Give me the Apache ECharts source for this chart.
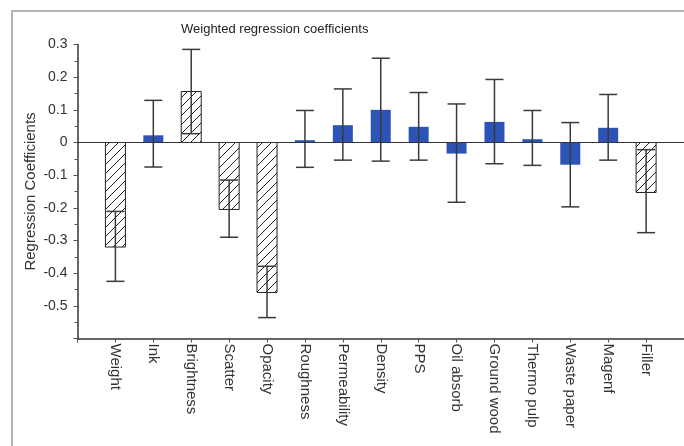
<!DOCTYPE html>
<html>
<head>
<meta charset="utf-8">
<script src="https://cdn.jsdelivr.net/npm/echarts@6/dist/echarts.min.js"></script>
<style>
html,body{margin:0;padding:0;background:#fff;}
#chart{width:684px;height:446px;}
</style>
</head>
<body>
<div id="chart"></div>
<script>
const titleText = 'Weighted regression coefficients';
const yAxisName = 'Regression Coefficients';
const categories = ['Weight','Ink','Brightness','Scatter','Opacity','Roughness','Permeability','Density','PPS','Oil absorb','Ground wood','Thermo pulp','Waste paper','Magenf','Filler'];
const coefficients = [-0.32, 0.022, 0.156, -0.205, -0.459, 0.007, 0.053, 0.100, 0.048, -0.034, 0.063, 0.010, -0.068, 0.045, -0.153];
const errorLow  = [-0.425, -0.075, 0.027, -0.290, -0.536, -0.076, -0.054, -0.057, -0.054, -0.183, -0.065, -0.070, -0.197, -0.054, -0.276];
const errorHigh = [-0.211, 0.129, 0.285, -0.115, -0.379, 0.098, 0.164, 0.258, 0.153, 0.118, 0.193, 0.098, 0.061, 0.147, -0.022];
const hatched = [true, false, true, true, true, false, false, false, false, false, false, false, false, false, true];
const yMin = -0.6, yMax = 0.3, yStep = 0.1;

// hatch pattern
const pc = document.createElement('canvas');
pc.width = 9; pc.height = 9;
const g = pc.getContext('2d');
g.fillStyle = '#fff'; g.fillRect(0,0,9,9);
g.strokeStyle = '#222'; g.lineWidth = 1;
g.beginPath();
g.moveTo(-1,10); g.lineTo(10,-1);
g.moveTo(-1,1); g.lineTo(1,-1);
g.moveTo(8,10); g.lineTo(10,8);
g.stroke();
const hatchFill = {image: pc, repeat: 'repeat'};

const axisCats = [''].concat(categories, ['']);
const seriesData = categories.map((c, i) => [i + 1, coefficients[i], errorLow[i], errorHigh[i], hatched[i] ? 1 : 0]);

const chart = echarts.init(document.getElementById('chart'), null, {renderer: 'canvas'});
const font = 'Liberation Sans, Arial, Helvetica, sans-serif';

chart.setOption({
  animation: false,
  backgroundColor: '#fff',
  title: {
    text: titleText,
    left: 176, top: 18,
    textStyle: {fontFamily: font, fontSize: 13, fontWeight: 'normal', color: '#222'}
  },
  graphic: [{
    type: 'rect', silent: true, z: -1,
    shape: {x: 12, y: 11, width: 720, height: 480},
    style: {fill: 'none', stroke: '#b4b4b4', lineWidth: 2}
  }],
  grid: {left: 77.5, right: -6, top: 44.5, bottom: 107.5, containLabel: false},
  xAxis: {
    type: 'category',
    data: axisCats,
    boundaryGap: false,
    axisLine: {onZero: false, lineStyle: {color: '#333', width: 1.5}},
    axisTick: {show: true, inside: false, length: 4, lineStyle: {color: '#555'}},
    axisLabel: {rotate: -90, margin: 5, interval: 0, fontFamily: font, fontSize: 15, color: '#333'},
    splitLine: {show: false}
  },
  yAxis: {
    type: 'value',
    min: yMin, max: yMax, interval: yStep,
    name: yAxisName,
    nameLocation: 'middle',
    nameGap: 39,
    nameMoveOverlap: false,
    nameTextStyle: {fontFamily: font, fontSize: 15, color: '#333'},
    axisLine: {show: true, lineStyle: {color: '#333', width: 1.5}},
    axisTick: {show: true, length: 4, lineStyle: {color: '#555'}},
    minorTick: {show: true, splitNumber: 2, length: 3, lineStyle: {color: '#555'}},
    axisLabel: {
      margin: 10, fontFamily: font, fontSize: 14, color: '#333',
      formatter: v => (Math.abs(v) < 1e-9 ? '0' : (Math.round(v * 10) / 10).toFixed(1)),
      showMaxLabel: true, showMinLabel: false
    },
    splitLine: {show: false}
  },
  series: [{
    type: 'custom',
    data: seriesData,
    encode: {x: 0, y: [1, 2, 3]},
    renderItem: function (params, api) {
      const x = api.value(0);
      const v = api.value(1);
      const lo = api.value(2);
      const hi = api.value(3);
      const h = api.value(4);
      const pTop = api.coord([x, v]);
      const p0 = api.coord([x, 0]);
      const pLo = api.coord([x, lo]);
      const pHi = api.coord([x, hi]);
      const bw = 20, cw = 18;
      const y1 = Math.min(pTop[1], p0[1]);
      const bh = Math.abs(pTop[1] - p0[1]);
      const children = [];
      children.push({
        type: 'rect',
        shape: {x: p0[0] - bw / 2, y: y1, width: bw, height: bh},
        style: h ? {fill: hatchFill, stroke: '#222', lineWidth: 1} : {fill: '#2b54b6', stroke: 'none'}
      });
      const ec = '#3a3a3a';
      children.push({type: 'line', shape: {x1: pLo[0], y1: pLo[1], x2: pHi[0], y2: pHi[1]}, style: {stroke: ec, lineWidth: 1.5}});
      children.push({type: 'line', shape: {x1: pLo[0] - cw / 2, y1: pLo[1], x2: pLo[0] + cw / 2, y2: pLo[1]}, style: {stroke: ec, lineWidth: 1.5}});
      children.push({type: 'line', shape: {x1: pHi[0] - cw / 2, y1: pHi[1], x2: pHi[0] + cw / 2, y2: pHi[1]}, style: {stroke: ec, lineWidth: 1.5}});
      return {type: 'group', children: children};
    },
    markLine: {
      silent: true, symbol: 'none', label: {show: false},
      lineStyle: {color: '#333', width: 1, type: 'solid'},
      data: [{yAxis: 0}]
    },
    z: 2
  }]
});
</script>
</body>
</html>
